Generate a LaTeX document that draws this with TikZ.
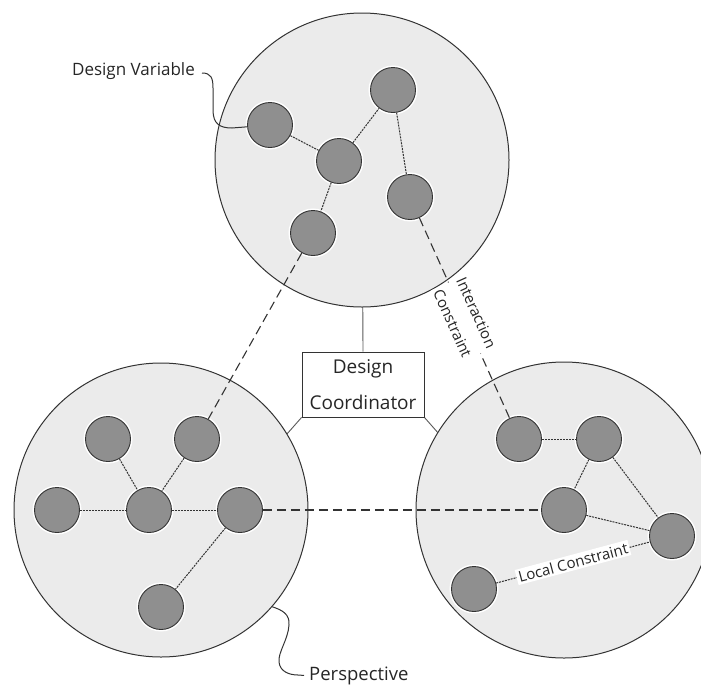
\documentclass[tikz,border=0pt]{standalone}
\usepackage{fontspec}
\setmainfont{Open Sans}
\pgfdeclarelayer{behind}
\pgfsetlayers{behind,main}
\definecolor{ringfill}{HTML}{EBEBEB}
\definecolor{dotfill}{HTML}{8F8F8F}
\definecolor{edge}{HTML}{333333}
\definecolor{ink}{HTML}{262626}
\tikzset{
  perspring/.style={circle, draw=edge, line width=1pt, fill=ringfill, inner sep=0pt, minimum size=#1},
  varnode/.style={circle, draw=edge, line width=0.9pt, fill=dotfill, inner sep=0pt,
    minimum size=45pt, preaction={draw=white, line width=4pt}},
  locallink/.style={draw=edge, line width=1pt, dash pattern=on 2pt off 1pt},
  interlink/.style={draw=edge, line width=1.1pt, dash pattern=on 9pt off 5pt},
  supportline/.style={draw=black!65, line width=0.9pt},
  leaderline/.style={draw=edge, line width=1pt},
  captiontext/.style={text=ink, inner sep=0pt},
}
\begin{document}
\begin{tikzpicture}[x=1pt,y=-1pt]
\useasboundingbox (0,0) rectangle (701,686);
\clip (0,0) rectangle (701,686);

% the three perspectives
\node[perspring=294pt] (T)  at (362,160) {};
\node[perspring=294pt] (BL) at (161,510) {};
\node[perspring=296pt] (BR) at (564,510) {};

% coordinator box
\node[draw=edge, line width=0.9pt, fill=white, minimum width=122pt, minimum height=65pt,
      inner sep=0pt, align=center, text=ink, font=\fontsize{19}{36}\selectfont]
      (coord) at (363,384.5) {Design\\Coordinator};

\begin{pgfonlayer}{behind}
  \draw[supportline] (coord.north) -- (T.center);
  \draw[supportline] (coord.south west) -- ++(-30,34);
  \draw[supportline] (coord.south east) -- ++(30,34);
\end{pgfonlayer}

% design variables, top perspective
\node[varnode] (A) at (270,125) {};
\node[varnode] (B) at (393,90) {};
\node[varnode] (C) at (339,161) {};
\node[varnode] (D) at (410,197) {};
\node[varnode] (E) at (313,233) {};

% design variables, left perspective
\node[varnode] (L1) at (108,439) {};
\node[varnode] (L2) at (197,439) {};
\node[varnode] (L3) at (57,510) {};
\node[varnode] (L4) at (149,510) {};
\node[varnode] (L5) at (240,510) {};
\node[varnode] (L6) at (161,607) {};

% design variables, right perspective
\node[varnode] (R1) at (519,439) {};
\node[varnode] (R2) at (599,439) {};
\node[varnode] (R3) at (564,510) {};
\node[varnode] (R4) at (672,536) {};
\node[varnode] (R5) at (474,589) {};

% local constraints
\draw[locallink] (A) -- (C);
\draw[locallink] (C) -- (B);
\draw[locallink] (C) -- (E);
\draw[locallink] (B) -- (D);

\draw[locallink] (L1) -- (L4);
\draw[locallink] (L2) -- (L4);
\draw[locallink] (L3) -- (L4);
\draw[locallink] (L4) -- (L5);
\draw[locallink] (L5) -- (L6);

\draw[locallink] (R1) -- (R2);
\draw[locallink] (R2) -- (R3);
\draw[locallink] (R2) -- (R4);
\draw[locallink] (R3) -- (R4);
\draw[locallink] (R5) -- node[sloped, fill=white, inner sep=2pt, text=ink,
    font=\fontsize{15}{17}\selectfont] (lc) {Local Constraint} (R4);

% interaction constraints
\draw[interlink] (E) -- (L2);
\draw[interlink] (L5) -- (R3);
\draw[interlink] (D) -- node[sloped, fill=white, inner sep=1pt, align=center, text=ink,
    font=\fontsize{15}{26}\selectfont] (ic) {Interaction\\Constraint} (R1);

% callouts
\node[captiontext, anchor=base east, font=\fontsize{17}{20}\selectfont] (dv) at (195,75) {Design Variable};
\draw[leaderline] ([shift={(7pt,2pt)}]dv.base east) .. controls (211,73) and (213,78) .. (213,88)
  -- (213,110) .. controls (213,124) and (220,128) .. (232,128) -- (A);

\node[captiontext, anchor=base west, font=\fontsize{18.5}{22}\selectfont] (pv) at (309,680) {Perspective};
\draw[leaderline] (BL.-41) .. controls (282,610) and (290,614) .. (289,625)
  .. controls (288,640) and (278,652) .. (279,662)
  .. controls (280,672) and (290,675) .. (298,675) -- ([xshift=-5pt]pv.west);
\end{tikzpicture}
\end{document}
